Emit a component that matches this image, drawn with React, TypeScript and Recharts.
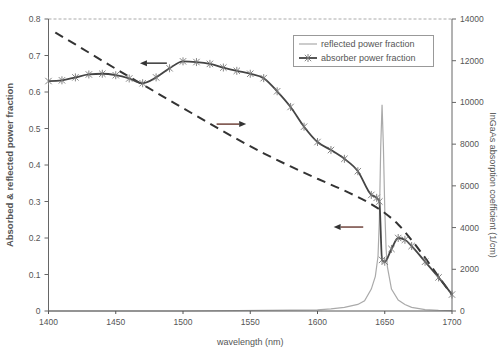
import React from 'react';
import { LineChart, Line, XAxis, YAxis, ReferenceLine } from 'recharts';

// absorber power fraction (left axis)
const absWavelength = [1400, 1410, 1420, 1430, 1440, 1450, 1460, 1470, 1480, 1490, 1500, 1510, 1520, 1530, 1540, 1550, 1560, 1570, 1580, 1590, 1600, 1610, 1620, 1630, 1640, 1644, 1646, 1648, 1650, 1655, 1660, 1665, 1670, 1680, 1690, 1700];
const absFraction = [0.630, 0.632, 0.640, 0.648, 0.650, 0.646, 0.637, 0.624, 0.640, 0.665, 0.684, 0.682, 0.677, 0.667, 0.658, 0.650, 0.638, 0.602, 0.559, 0.505, 0.463, 0.441, 0.417, 0.383, 0.318, 0.310, 0.300, 0.140, 0.135, 0.170, 0.200, 0.195, 0.178, 0.135, 0.092, 0.045];

// reflected power fraction (left axis)
const refWavelength = [1400, 1500, 1600, 1610, 1620, 1630, 1635, 1640, 1643, 1645, 1646, 1647, 1648, 1649, 1650, 1651, 1652, 1655, 1660, 1665, 1670, 1680, 1690, 1700];
const refFraction = [0, 0, 0.003, 0.006, 0.010, 0.018, 0.028, 0.060, 0.095, 0.150, 0.250, 0.450, 0.565, 0.450, 0.280, 0.170, 0.120, 0.060, 0.030, 0.018, 0.010, 0.004, 0.002, 0.001];

// InGaAs absorption coefficient (right axis, 1/cm)
const coefWavelength = [1405, 1420, 1440, 1460, 1480, 1500, 1520, 1540, 1560, 1580, 1600, 1620, 1640, 1650, 1660, 1670, 1680, 1690, 1700];
const coefValue = [13350, 12780, 12000, 11230, 10480, 9730, 8980, 8250, 7560, 6930, 6340, 5770, 5120, 4700, 4150, 3400, 2550, 1650, 770];

const xTicks = [1400, 1450, 1500, 1550, 1600, 1650, 1700];
const leftTicks = [0, 0.1, 0.2, 0.3, 0.4, 0.5, 0.6, 0.7, 0.8];
const rightTicks = [0, 2000, 4000, 6000, 8000, 10000, 12000, 14000];

const absData = absWavelength.map((x, i) => ({ x, y: absFraction[i] }));
const refData = refWavelength.map((x, i) => ({ x, y: refFraction[i] }));
const coefData = coefWavelength.map((x, i) => ({ x, c: coefValue[i] }));

const FONT = '"Liberation Sans", Arial, sans-serif';
const tickStyle = { fontSize: 8.5, fill: '#555', fontFamily: FONT };

function StarDot(props: any) {
    const { cx, cy, index } = props;
    if (cx == null || cy == null) return null;
    const s = 3.2;
    return (
        <g key={'d' + index} stroke="#777" strokeWidth={0.9}>
            <line x1={cx - s} y1={cy - s} x2={cx + s} y2={cy + s} />
            <line x1={cx - s} y1={cy + s} x2={cx + s} y2={cy - s} />
            <line x1={cx} y1={cy - s - 0.8} x2={cx} y2={cy + s + 0.8} />
        </g>
    );
}

const arrowShape = (color: string) => (props: any) => {
    const { x1, y1, x2, y2 } = props;
    if (x1 == null) return null;
    const dir = x2 > x1 ? 1 : -1;
    const hx = x2 - dir * 7;
    return (
        <g>
            <line x1={x1} y1={y1} x2={hx} y2={y2} stroke={color} strokeWidth={1.6} />
            <polygon points={`${x2},${y2} ${hx},${y2 - 3} ${hx},${y2 + 3}`} fill="#333" />
        </g>
    );
};

function LegendBox() {
    return (
        <div style={{ position: 'absolute', left: 293, top: 35, border: '1px solid #999', background: '#fff', padding: '1px 4px', fontFamily: FONT, fontSize: 9, color: '#555', lineHeight: '14px', width: 131 }}>
            <div style={{ display: 'flex', alignItems: 'center' }}>
                <svg width={20} height={10}><line x1={1} y1={5} x2={19} y2={5} stroke="#aaa" strokeWidth={1.2} /></svg>
                <span style={{ marginLeft: 3 }}>reflected power fraction</span>
            </div>
            <div style={{ display: 'flex', alignItems: 'center' }}>
                <svg width={20} height={10}>
                    <line x1={1} y1={5} x2={19} y2={5} stroke="#444" strokeWidth={1.8} />
                    <StarDot cx={10} cy={5} index={0} />
                </svg>
                <span style={{ marginLeft: 3 }}>absorber power fraction</span>
            </div>
        </div>
    );
}

export default function App() {
    return (
        <div style={{ position: 'absolute', left: 0, top: 0, width: 500, height: 348, background: '#fff' }}>
            <LineChart width={500} height={348} margin={{ top: 19, right: 0, bottom: 0, left: 0 }}>
                <XAxis
                    dataKey="x"
                    type="number"
                    domain={[1400, 1700]}
                    ticks={xTicks}
                    allowDuplicatedCategory={false}
                    height={37}
                    tick={tickStyle}
                    tickSize={3}
                    tickMargin={5}
                    stroke="#555"
                    label={{ value: 'wavelength (nm)', position: 'insideBottom', offset: 3, style: { fontSize: 9, fill: '#555', fontFamily: FONT } }}
                />
                <YAxis
                    yAxisId="left"
                    domain={[0, 0.8]}
                    ticks={leftTicks}
                    width={48.5}
                    tick={tickStyle}
                    tickSize={4}
                    tickMargin={4}
                    tickFormatter={(v: number) => (v === 0 ? '0' : v.toFixed(1))}
                    stroke="#666"
                    label={{ value: 'Absorbed &  reflected power fraction', angle: -90, position: 'insideLeft', offset: 10, style: { fontSize: 9.5, fill: '#555', fontFamily: FONT, fontWeight: 'bold', textAnchor: 'middle' } }}
                />
                <YAxis
                    yAxisId="right"
                    orientation="right"
                    domain={[0, 14000]}
                    ticks={rightTicks}
                    width={48}
                    tick={tickStyle}
                    tickSize={4}
                    tickMargin={4}
                    stroke="#666"
                    label={{ value: 'InGaAs absorption coefficient (1/cm)', angle: 90, position: 'insideRight', offset: 7, dy: 20, style: { fontSize: 9, fill: '#555', fontFamily: FONT, textAnchor: 'middle' } }}
                />
                <ReferenceLine yAxisId="left" y={0.8} stroke="#aaa" strokeDasharray="3 2" />
                <ReferenceLine yAxisId="left" segment={[{ x: 1488, y: 0.679 }, { x: 1468, y: 0.679 }]} shape={arrowShape('#444')} />
                <ReferenceLine yAxisId="left" segment={[{ x: 1525, y: 0.512 }, { x: 1547, y: 0.512 }]} shape={arrowShape('#7a5048')} />
                <ReferenceLine yAxisId="left" segment={[{ x: 1634, y: 0.230 }, { x: 1612, y: 0.230 }]} shape={arrowShape('#7a5048')} />
                <Line yAxisId="left" data={refData} dataKey="y" stroke="#aaa" strokeWidth={1.2} dot={false} isAnimationActive={false} type="linear" />
                <Line yAxisId="right" data={coefData} dataKey="c" stroke="#333" strokeWidth={2} strokeDasharray="9 6" dot={false} isAnimationActive={false} type="monotone" />
                <Line yAxisId="left" data={absData} dataKey="y" stroke="#444" strokeWidth={1.8} dot={<StarDot />} isAnimationActive={false} type="monotone" />
            </LineChart>
            <LegendBox />
        </div>
    );
}
